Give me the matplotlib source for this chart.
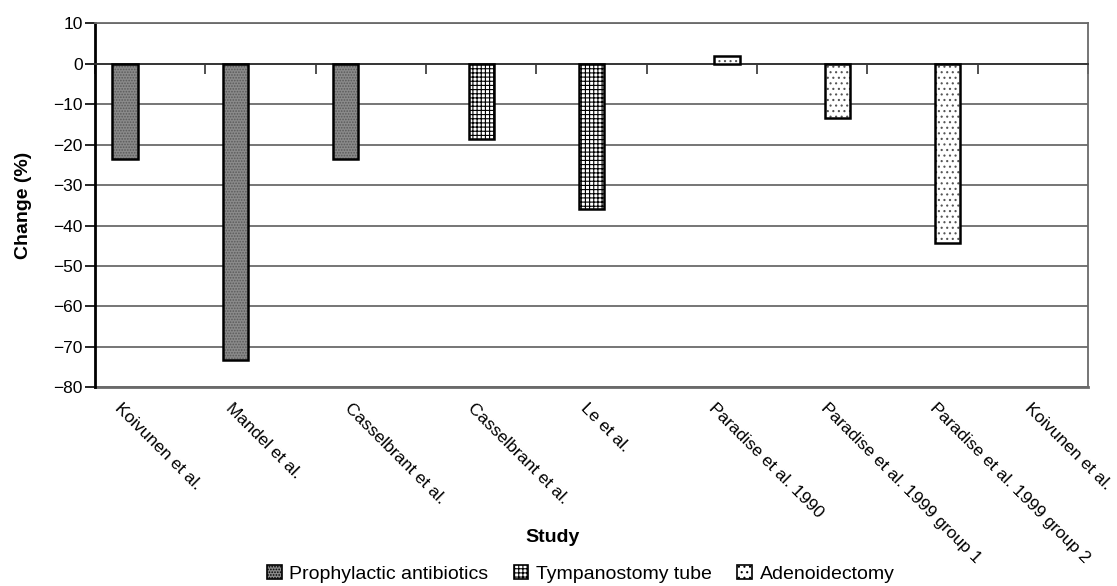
import matplotlib
matplotlib.use('Agg')
import matplotlib.pyplot as plt
import numpy as np
from matplotlib.patches import Patch
from matplotlib.transforms import blended_transform_factory, ScaledTranslation

# ---------------- data ----------------
studies = ["Koivunen et al.", "Mandel et al.", "Casselbrant et al.",
           "Casselbrant et al.", "Le et al.", "Paradise et al. 1990",
           "Paradise et al. 1999 group 1", "Paradise et al. 1999 group 2",
           "Koivunen et al."]
antibiotics = [-23.5, -73.3, -23.5, 0, 0, 0, 0, 0, 0]
tympanostomy = [0, 0, 0, -18.5, -36.0, 0, 0, 0, 0]
adenoidectomy = [0, 0, 0, 0, 0, 2.0, -13.5, -44.2, 0]
series_names = ["Prophylactic antibiotics", "Tympanostomy tube", "Adenoidectomy"]
y_ticks = [10, 0, -10, -20, -30, -40, -50, -60, -70, -80]

# ---------------- style ----------------
plt.rcParams['font.family'] = ['Liberation Sans', 'DejaVu Sans']
plt.rcParams['hatch.linewidth'] = 0.8
FS = 12.5
styles = [
    dict(face='#8a8a8a', hatch='......', hcol='#5a5a5a'),
    dict(face='white', hatch='++++', hcol='black'),
    dict(face='white', hatch='...', hcol='#555555'),
]
label_nudge_px = [-28, -27, -18, -6, -3, 15, 16, 15, 0]
GRID = '#6a6a6a'

fig = plt.figure(figsize=(11.17, 5.86), dpi=100)
ax = fig.add_axes([0.0851, 0.3391, 0.8890, 0.6211])

n = len(studies)
x = np.arange(n)
width = 0.228
all_series = [antibiotics, tympanostomy, adenoidectomy]
for s, (vals, st) in enumerate(zip(all_series, styles)):
    vals = np.asarray(vals, dtype=float)
    m = vals != 0
    xs = x[m] + (s - 1) * width
    ax.bar(xs, vals[m], width, color=st['face'], edgecolor=st['hcol'],
           hatch=st['hatch'], linewidth=0, zorder=3)
    ax.bar(xs, vals[m], width, fill=False, edgecolor='black',
           linewidth=1.8, zorder=4)

ymin, ymax = min(y_ticks), max(y_ticks)
ax.set_ylim(ymin, ymax)
ax.set_xlim(-0.5, n - 0.5)

# y axis
ax.set_yticks(y_ticks)
ax.set_yticklabels([f"{t:d}".replace('-', '\u2212') for t in y_ticks], fontsize=FS)
ax.tick_params(axis='y', direction='out', length=7, width=1.2, pad=2, colors='black')
ax.yaxis.grid(True, color=GRID, linewidth=1.3, zorder=0)
ax.set_axisbelow(True)

# x axis at zero with ticks at category boundaries
ax.spines['bottom'].set_position(('data', 0))
ax.spines['bottom'].set_color('#333333')
ax.spines['bottom'].set_linewidth(1.3)
ax.set_xticks(np.arange(-0.5, n, 1.0))
ax.set_xticklabels([])
ax.tick_params(axis='x', direction='out', length=7, width=1.2, color='#333333')

ax.spines['left'].set_linewidth(2.0)
ax.spines['left'].set_color('black')
for sp in ('top', 'right'):
    ax.spines[sp].set_color(GRID)
    ax.spines[sp].set_linewidth(1.3)
ax.axhline(ymin, color=GRID, linewidth=2.0, clip_on=False, zorder=2)

# category labels (rotated)
trans = blended_transform_factory(ax.transData, ax.transAxes)
for i, lab in enumerate(studies):
    off = ScaledTranslation(label_nudge_px[i] / 100.0, -13 / 100.0, fig.dpi_scale_trans)
    ax.text(x[i], 0, lab, transform=trans + off, rotation=-45,
            rotation_mode='anchor', ha='left', va='top', fontsize=FS)

fig.text(24 / 1117, 1 - 205 / 586, 'Change (%)', rotation=90, ha='center',
         va='center', fontsize=14, fontweight='bold')
fig.text(553 / 1117, 1 - 538 / 586, 'Study', ha='center', va='center',
         fontsize=14, fontweight='bold')

handles = [Patch(facecolor=st['face'], edgecolor='black', hatch=st['hatch'],
                 linewidth=1.2) for st in styles]
fig.legend(handles, series_names, loc='center', bbox_to_anchor=(0.52, 1 - 574 / 586),
           ncol=3, frameon=False, fontsize=14, handlelength=0.75, handleheight=0.75,
           handletextpad=0.4, columnspacing=1.3)

fig.savefig('out.png', dpi=100)
